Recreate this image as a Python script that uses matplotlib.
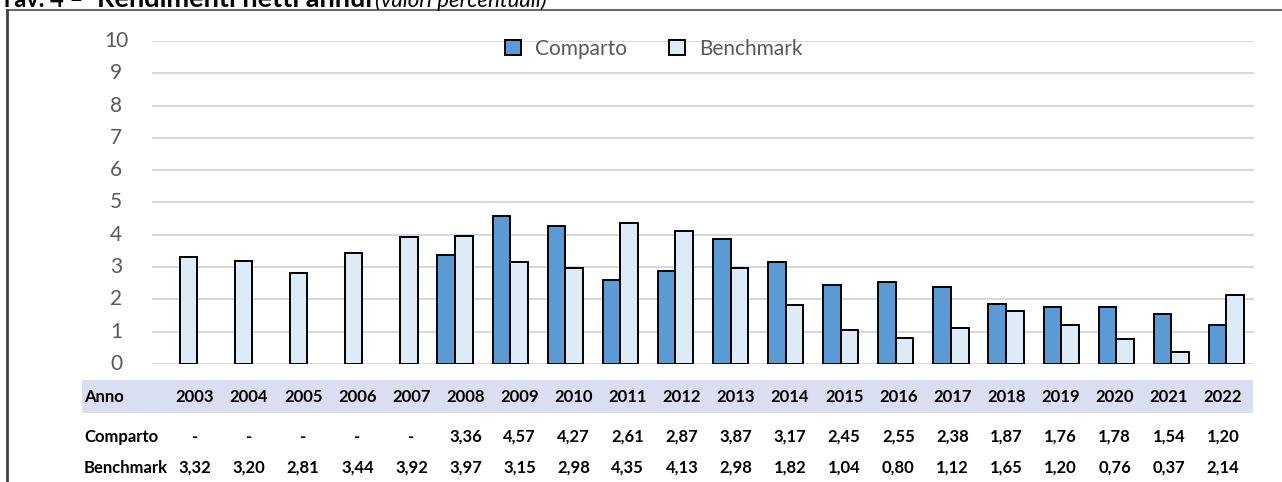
import matplotlib.pyplot as plt
import numpy as np
from matplotlib.patches import Rectangle
from matplotlib.lines import Line2D

years = ['2003', '2004', '2005', '2006', '2007', '2008', '2009', '2010', '2011', '2012',
         '2013', '2014', '2015', '2016', '2017', '2018', '2019', '2020', '2021', '2022']
comparto = [None, None, None, None, None, 3.36, 4.57, 4.27, 2.61, 2.87,
            3.87, 3.17, 2.45, 2.55, 2.38, 1.87, 1.76, 1.78, 1.54, 1.20]
benchmark = [3.32, 3.20, 2.81, 3.44, 3.92, 3.97, 3.15, 2.98, 4.35, 4.13,
             2.98, 1.82, 1.04, 0.80, 1.12, 1.65, 1.20, 0.76, 0.37, 2.14]
yticks = list(range(0, 11))

W, H = 1282, 482
fig = plt.figure(figsize=(W / 100, H / 100), dpi=100)

font = ['Lato', 'DejaVu Sans']
grey = '#595959'

# main plot area
ax = fig.add_axes([152 / W, 1 - 364 / H, (1254 - 152) / W, (364 - 41) / H])
x = np.arange(len(years))
bw = 0.32
comp_vals = [np.nan if v is None else v for v in comparto]
ax.bar(x - bw / 2, comp_vals, bw, color='#5B9BD5', edgecolor='black', linewidth=1.4, zorder=3)
ax.bar(x + bw / 2, benchmark, bw, color='#DDEBF7', edgecolor='black', linewidth=1.4, zorder=3)
ax.set_xlim(-0.5, len(years) - 0.5)
ax.set_ylim(0, 10)
ax.set_yticks(yticks)
ax.yaxis.grid(True, color='#d9d9d9', linewidth=1.5, zorder=0)
ax.set_xticks([])
for s in ax.spines.values():
    s.set_visible(False)
ax.tick_params(axis='y', length=0)
ax.set_yticklabels([])
for t in yticks:
    ax.text(-36 / 55.1 - 0.5, t, str(t), ha='center', va='center', fontsize=15,
            color=grey, family=font)

# legend
handles = [Rectangle((0, 0), 1, 1, facecolor='#5B9BD5', edgecolor='black', linewidth=1.4),
           Rectangle((0, 0), 1, 1, facecolor='#DDEBF7', edgecolor='black', linewidth=1.4)]
leg = fig.legend(handles, ['Comparto', 'Benchmark'], loc='center', bbox_to_anchor=(654 / W, 1 - 49 / H),
                 ncol=2, frameon=False, handlelength=0.75, handleheight=0.75, handletextpad=0.7,
                 columnspacing=2.0, prop={'family': font, 'size': 15})
for t in leg.get_texts():
    t.set_color(grey)

# title (partially cut at top, as in the source)
ty = 1 - 7 / H
fig.text(0.0, ty, 'Tav. 4 \u2013', ha='left', va='baseline', fontsize=17, fontweight='bold', family=font)
t1 = fig.text(97 / W, ty, 'Rendimenti netti annui', ha='left', va='baseline',
              fontsize=19.5, fontweight='bold', family=font)
fig.canvas.draw()
x_end = t1.get_window_extent().x1 / W
fig.text(x_end + 3 / W, ty, '(valori percentuali)', ha='left', va='baseline',
         fontsize=16, style='italic', family=font)

# frame
fig.add_artist(Line2D([7 / W, 1], [1 - 10 / H, 1 - 10 / H], color='#6b6b6b', linewidth=1.5))
fig.add_artist(Line2D([7 / W, 7 / W], [0, 1 - 10 / H], color='#404040', linewidth=2))

# data table below the chart
fig.add_artist(Rectangle((82 / W, 1 - 413 / H), (1253 - 82) / W, 33 / H, transform=fig.transFigure,
                         facecolor='#D9DFF1', edgecolor='none'))
rows = [('Anno', years, 397),
        ('Comparto', ['-' if v is None else f'{v:.2f}'.replace('.', ',') for v in comparto], 437),
        ('Benchmark', [f'{v:.2f}'.replace('.', ',') for v in benchmark], 468)]
for label, vals, ypix in rows:
    yy = 1 - ypix / H
    fig.text(84 / W, yy, label, ha='left', va='center', fontsize=12, fontweight='bold', family=font)
    for i, v in enumerate(vals):
        fig.text((195 + i * 54.1) / W, yy, v, ha='center', va='center', fontsize=12,
                 fontweight='bold', family=font)

fig.savefig('out.png', dpi=100)
